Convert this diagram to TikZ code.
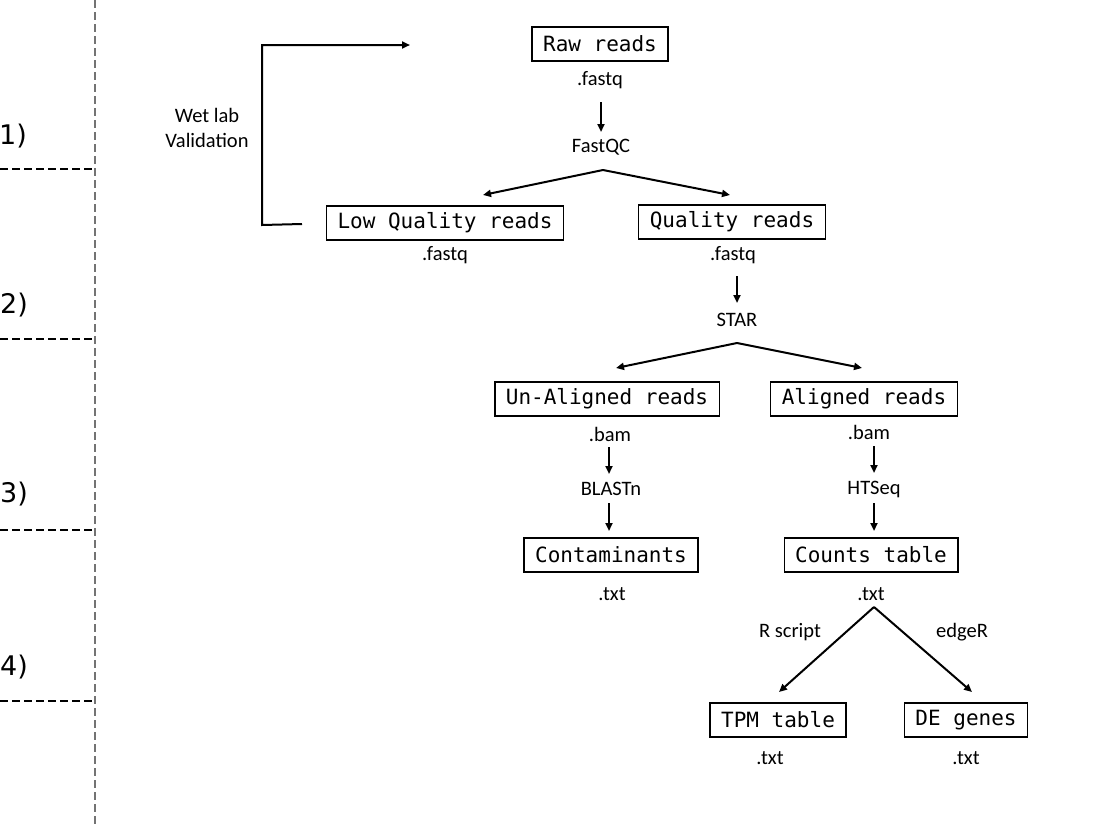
\documentclass[tikz,border=0pt]{standalone}
\usepackage{fontspec}
\setmainfont{Carlito}
\newfontfamily\boxfont{DejaVu Sans Mono}
\newfontfamily\numfont{DejaVu Sans}
\usetikzlibrary{arrows.meta}
\begin{document}
\begin{tikzpicture}[x=1pt,y=-1pt,
  box/.style={draw, line width=1.3pt, font=\boxfont\fontsize{21}{25}\selectfont, minimum height=34pt, inner xsep=11pt, inner ysep=0pt},
  lab/.style={font=\fontsize{20.5}{24}\selectfont, inner sep=0pt},
  num/.style={font=\numfont\fontsize{27}{30}\selectfont, inner sep=0pt},
  arr/.style={line width=2pt, -{Triangle[length=8pt,width=7pt]}},
  sep/.style={line width=2pt, dash pattern=on 8pt off 4pt},
  vsep/.style={line width=2pt, draw=black!55, dash pattern=on 8pt off 4pt}]
\useasboundingbox (0,0) rectangle (1100,825);
\fill[white] (0,0) rectangle (1100,825);

% left stage separators
\draw[vsep] (95,0) -- (95,825);
\coordinate (s1l) at (0,169); \coordinate (s1r) at (95,169);
\coordinate (s2l) at (0,339); \coordinate (s2r) at (95,339);
\coordinate (s3l) at (0,530); \coordinate (s3r) at (95,530);
\coordinate (s4l) at (0,701); \coordinate (s4r) at (95,701);
\draw[sep] (s1l) -- (s1r);
\draw[sep] (s2l) -- (s2r);
\draw[sep] (s3l) -- (s3r);
\draw[sep] (s4l) -- (s4r);
\node[num] (n1) at (13,136) {1)};
\node[num] (n2) at (14,305) {2)};
\node[num] (n3) at (14,494) {3)};
\node[num] (n4) at (14,667) {4)};

% nodes
\node[box] (raw) at (600,44) {Raw reads};
\node[lab] (rawf) at (600,80) {.fastq};
\node[lab] (fastqc) at (601,147) {FastQC};
\node[box] (lq) at (445,223) {Low Quality reads};
\node[lab] (lqf) at (445,255) {.fastq};
\node[box] (q) at (732,222) {Quality reads};
\node[lab] (qf) at (733,255) {.fastq};
\node[lab] (star) at (737,320) {STAR};
\node[box] (un) at (607,399) {Un-Aligned reads};
\node[lab] (unb) at (610,434) {.bam};
\node[lab] (blast) at (611,489) {BLASTn};
\node[box] (cont) at (611,555) {Contaminants};
\node[lab] (contt) at (612,594) {.txt};
\node[box] (al) at (864,399) {Aligned reads};
\node[lab] (alb) at (869,432) {.bam};
\node[lab] (htseq) at (874,489) {HTSeq};
\node[box] (counts) at (871,555) {Counts table};
\node[lab] (countst) at (871,594) {.txt};
\node[lab] (rscript) at (790,632) {R script};
\node[lab] (edger) at (962,632) {edgeR};
\node[box] (tpm) at (778,720) {TPM table};
\node[lab] (tpmt) at (770,758) {.txt};
\node[box] (de) at (966,720) {DE genes};
\node[lab] (det) at (966,758) {.txt};
\node[lab, align=center] (wet) at (207,128) {Wet lab\\[1pt]Validation};

% straight arrows between labels (vertical)
\coordinate (a1s) at (601,102); \coordinate (a1e) at (601,132);
\coordinate (a2s) at (737,276); \coordinate (a2e) at (737,303);
\coordinate (a3s) at (609,447); \coordinate (a3e) at (609,474);
\coordinate (a4s) at (609,503); \coordinate (a4e) at (609,531);
\coordinate (a5s) at (874,446); \coordinate (a5e) at (874,473);
\coordinate (a6s) at (874,503); \coordinate (a6e) at (874,531);
\draw[arr] (a1s) -- (a1e);
\draw[arr] (a2s) -- (a2e);
\draw[arr] (a3s) -- (a3e);
\draw[arr] (a4s) -- (a4e);
\draw[arr] (a5s) -- (a5e);
\draw[arr] (a6s) -- (a6e);

\coordinate (f1) at (603,170);
\coordinate (f1l) at (483,195);
\coordinate (f1r) at (730,195);
\draw[arr] (f1) -- (f1l);
\draw[arr] (f1) -- (f1r);

\coordinate (f2) at (737,343);
\coordinate (f2l) at (616,368);
\coordinate (f2r) at (862,368);
\draw[arr] (f2) -- (f2l);
\draw[arr] (f2) -- (f2r);

\coordinate (f3) at (874,607);
\coordinate (f3l) at (779,692);
\coordinate (f3r) at (972,692);
\draw[arr] (f3) -- (f3l);
\draw[arr] (f3) -- (f3r);

% wet lab feedback
\coordinate (fbs) at (302,224);
\coordinate (fbc1) at (262,225);
\coordinate (fbc2) at (262,45);
\coordinate (fbe) at (410,45);
\draw[arr, line join=miter] (fbs) -- (fbc1) -- (fbc2) -- (fbe);
\end{tikzpicture}
\end{document}
